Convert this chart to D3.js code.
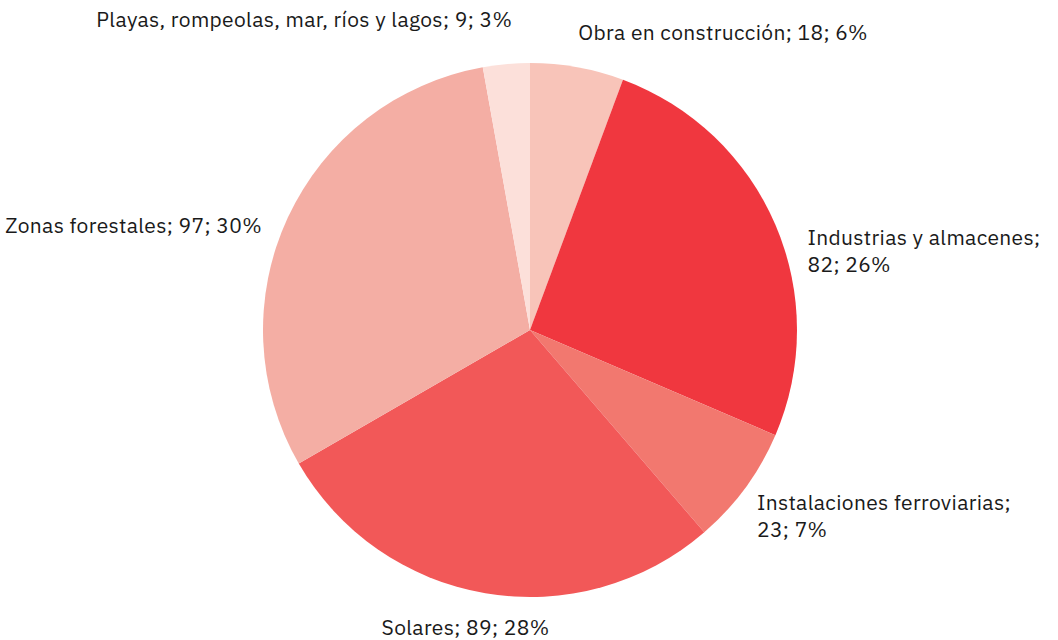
<!DOCTYPE html>
<html>
<head>
<meta charset="utf-8">
<script src="https://cdn.jsdelivr.net/npm/d3@7"></script>
<style>
  html, body { margin: 0; padding: 0; background: #ffffff; }
  svg { display: block; }
  text { font-family: "IBM Plex Sans", Roboto, "Noto Sans", sans-serif; font-size: 21px; letter-spacing: 0.35px; fill: #1a1a1a; }
</style>
</head>
<body>
<svg id="chart" width="1058" height="640"></svg>
<script>
const categories = [
  "Obra en construcción",
  "Industrias y almacenes",
  "Instalaciones ferroviarias",
  "Solares",
  "Zonas forestales",
  "Playas, rompeolas, mar, ríos y lagos"
];
const values = [18, 82, 23, 89, 97, 9];
const colors = ["#f8c4b9", "#f0373f", "#f2786f", "#f25858", "#f4aea4", "#fce0da"];
// label lines (how each label wraps)
const labelLines = [
  ["Obra en construcción; 18; 6%"],
  ["Industrias y almacenes;", "82; 26%"],
  ["Instalaciones ferroviarias;", "23; 7%"],
  ["Solares; 89; 28%"],
  ["Zonas forestales; 97; 30%"],
  ["Playas, rompeolas, mar, ríos y lagos; 9; 3%"]
];
const labelAnchor = ["start", "start", "start", "middle", "end", "end"];
const labelNudge = [[-3, -5], [11, 29], [-7, 9], [-16, 19], [-5, 25], [8, -14]];

const W = 1058, H = 640;
const cx = 530, cy = 330, r = 267;
const svg = d3.select("#chart");
const g = svg.append("g").attr("transform", `translate(${cx},${cy})`);

const data = categories.map((c, i) => ({ name: c, value: values[i], i }));
const pie = d3.pie().value(d => d.value).sort(null);
const arcs = pie(data);
const arc = d3.arc().innerRadius(0).outerRadius(r);

g.selectAll("path.slice")
  .data(arcs)
  .join("path")
  .attr("class", "slice")
  .attr("d", arc)
  .attr("fill", d => colors[d.data.i]);

const labelR = 290;
const lineH = 27;
arcs.forEach(d => {
  const i = d.data.i;
  const a = (d.startAngle + d.endAngle) / 2;
  const x = labelR * Math.sin(a) + labelNudge[i][0];
  const y = -labelR * Math.cos(a) + labelNudge[i][1];
  const t = g.append("text")
    .attr("text-anchor", labelAnchor[i])
    .attr("x", x).attr("y", y);
  labelLines[i].forEach((ln, k) => {
    t.append("tspan").attr("x", x).attr("y", y + k * lineH).text(ln);
  });
});
</script>
</body>
</html>
